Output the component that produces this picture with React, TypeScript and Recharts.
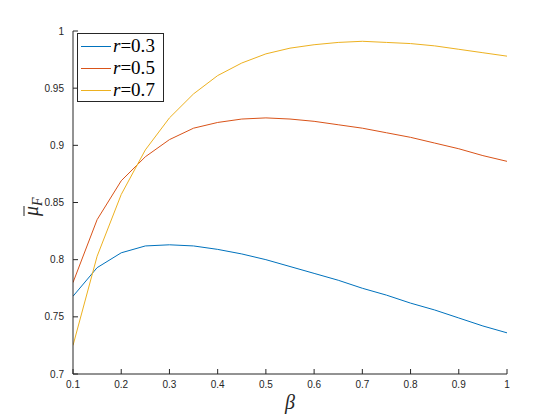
import React from "react";
import { LineChart, Line, XAxis, YAxis } from "recharts";

const betas = [0.1, 0.15, 0.2, 0.25, 0.3, 0.35, 0.4, 0.45, 0.5, 0.55, 0.6, 0.65, 0.7, 0.75, 0.8, 0.85, 0.9, 0.95, 1.0];
const r03 = [0.768, 0.793, 0.806, 0.812, 0.813, 0.812, 0.809, 0.805, 0.8, 0.794, 0.788, 0.782, 0.775, 0.769, 0.762, 0.756, 0.749, 0.742, 0.736];
const r05 = [0.78, 0.835, 0.869, 0.89, 0.905, 0.915, 0.92, 0.923, 0.924, 0.923, 0.921, 0.918, 0.915, 0.911, 0.907, 0.902, 0.897, 0.891, 0.886];
const r07 = [0.725, 0.803, 0.857, 0.896, 0.924, 0.945, 0.961, 0.972, 0.98, 0.985, 0.988, 0.99, 0.991, 0.99, 0.989, 0.987, 0.984, 0.981, 0.978];
const xTicks = [0.1, 0.2, 0.3, 0.4, 0.5, 0.6, 0.7, 0.8, 0.9, 1];
const yTicks = [0.7, 0.75, 0.8, 0.85, 0.9, 0.95, 1];
const seriesNames = ["0.3", "0.5", "0.7"];
const colors = ["#0072BD", "#D95319", "#EDB120"];

const data = betas.map((b, i) => ({ beta: b, a: r03[i], b5: r05[i], c: r07[i] }));

const AX = "#262626";
const tickFont = "'Liberation Sans', Arial, Helvetica, sans-serif";
const mathFont = "'Liberation Serif', 'DejaVu Serif', serif";

const XTick = (props: any) => {
  const { x, y, payload } = props;
  return (
    <g>
      <line x1={x} x2={x} y1={y} y2={y - 5} stroke={AX} strokeWidth={1} />
      <text x={x} y={y + 14} textAnchor="middle" fontSize={10} fontFamily={tickFont} fill={AX}>
        {String(payload.value)}
      </text>
    </g>
  );
};

const YTick = (props: any) => {
  const { x, y, payload } = props;
  return (
    <g>
      <line x1={x} x2={x + 5} y1={y} y2={y} stroke={AX} strokeWidth={1} />
      <text x={x - 9} y={y + 3.5} textAnchor="end" fontSize={10} fontFamily={tickFont} fill={AX}>
        {String(payload.value)}
      </text>
    </g>
  );
};

const LegendBox = () => (
  <div
    style={{
      position: "absolute",
      left: 77,
      top: 33,
      border: `1px solid ${AX}`,
      background: "#fff",
      width: 87,
      height: 69,
      padding: "1px 0 0 0",
      boxSizing: "border-box",
    }}
  >
    {seriesNames.map((n, i) => (
      <div key={n} style={{ display: "flex", alignItems: "center", height: 22 }}>
        <div style={{ width: 30, height: 1, background: colors[i], marginLeft: 3, marginRight: 2 }} />
        <span style={{ fontFamily: mathFont, fontSize: 19, color: "#000", whiteSpace: "nowrap", lineHeight: "20px" }}>
          <i>r</i>=0.{n.slice(2)}
        </span>
      </div>
    ))}
  </div>
);

export default function App() {
  return (
    <div style={{ position: "absolute", left: 0, top: 0, width: 560, height: 420, background: "#fff" }}>
      <LineChart width={560} height={420} data={data} margin={{ top: 31, right: 53, left: 33, bottom: 16 }}>
        <XAxis
          dataKey="beta"
          type="number"
          domain={[0.1, 1]}
          ticks={xTicks}
          allowDataOverflow
          stroke={AX}
          tickSize={0}
          tickMargin={0}
          tickLine={false}
          tick={<XTick />}
          height={30}
          label={{
            content: () => (
              <text x={290} y={409} textAnchor="middle" fontSize={20} fontStyle="italic" fontFamily={mathFont} fill={AX}>
                β
              </text>
            ),
          }}
        />
        <YAxis
          type="number"
          domain={[0.7, 1]}
          ticks={yTicks}
          allowDataOverflow
          stroke={AX}
          tickSize={0}
          tickMargin={0}
          tickLine={false}
          tick={<YTick />}
          width={40}
          label={{
            content: () => (
              <g transform="translate(38,203) rotate(-90)">
                <text x={-3} y={0} textAnchor="end" fontSize={20} fontStyle="italic" fontFamily={mathFont} fill={AX}>
                  μ
                </text>
                <line x1={-13} x2={-3} y1={-14} y2={-14} stroke={AX} strokeWidth={1} />
                <text x={-3} y={4} textAnchor="start" fontSize={14} fontStyle="italic" fontFamily={mathFont} fill={AX}>
                  F
                </text>
              </g>
            ),
          }}
        />
        <Line dataKey="a" name="r=0.3" stroke={colors[0]} strokeWidth={1} dot={false} isAnimationActive={false} type="linear" />
        <Line dataKey="b5" name="r=0.5" stroke={colors[1]} strokeWidth={1} dot={false} isAnimationActive={false} type="linear" />
        <Line dataKey="c" name="r=0.7" stroke={colors[2]} strokeWidth={1} dot={false} isAnimationActive={false} type="linear" />
      </LineChart>
      <LegendBox />
    </div>
  );
}
